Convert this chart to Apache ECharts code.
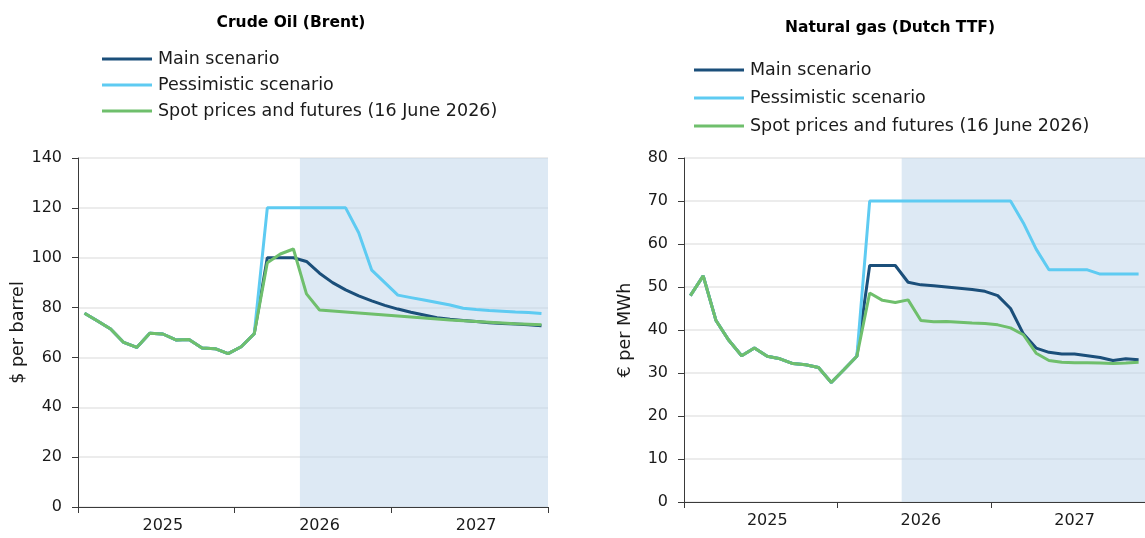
<!DOCTYPE html>
<html>
<head>
<meta charset="utf-8">
<script src="https://cdn.jsdelivr.net/npm/echarts@6/dist/echarts.min.js"></script>
<style>html,body{margin:0;padding:0;background:#fff}#c{width:1145px;height:538px}</style>
</head>
<body>
<div id="c"></div>
<script>
// ---- data ----
const years = ['2025', '2026', '2027'];
const seriesNames = ['Main scenario', 'Pessimistic scenario', 'Spot prices and futures (16 June 2026)'];
const oilYTicks = [0, 20, 40, 60, 80, 100, 120, 140];
const gasYTicks = [0, 10, 20, 30, 40, 50, 60, 70, 80];
const forecastStartIndex = 17; // June 2026: shaded forecast period

const oilMain = [77.7, 74.6, 71.4, 66.0, 64.0, 69.7, 69.4, 67.0, 67.2, 63.8, 63.5, 61.5,
  64.3, 69.5, 100, 100, 100, 98.5, 93.8, 90.0, 87.1, 84.7, 82.7, 80.9,
  79.4, 78.1, 77.0, 75.9, 75.3, 74.8, 74.4, 73.9, 73.6, 73.4, 73.1, 72.7];
const oilPess = [77.7, 74.6, 71.4, 66.0, 64.0, 69.7, 69.4, 67.0, 67.2, 63.8, 63.5, 61.5,
  64.3, 69.5, 120, 120, 120, 120, 120, 120, 120, 110, 95, 90,
  85, 84, 83, 82, 81, 79.7, 79.2, 78.8, 78.5, 78.2, 78.0, 77.6];
const oilSpot = [77.7, 74.6, 71.4, 66.0, 64.0, 69.7, 69.4, 67.0, 67.2, 63.8, 63.5, 61.5,
  64.3, 69.5, 98.0, 101.5, 103.5, 85.5, 79.0, 78.6, 78.2, 77.8, 77.4, 77.0,
  76.6, 76.2, 75.8, 75.4, 75.0, 74.7, 74.4, 74.1, 73.8, 73.5, 73.3, 73.1];

const gasMain = [48.0, 52.6, 42.2, 37.6, 34.0, 35.8, 33.9, 33.3, 32.2, 31.9, 31.3, 27.8,
  30.8, 33.9, 55, 55, 55, 51.1, 50.5, 50.3, 50.0, 49.7, 49.4, 49.0,
  48.0, 45.0, 39.1, 35.8, 34.8, 34.4, 34.4, 34.0, 33.6, 32.9, 33.3, 33.1];
const gasPess = [48.0, 52.6, 42.2, 37.6, 34.0, 35.8, 33.9, 33.3, 32.2, 31.9, 31.3, 27.8,
  30.8, 33.9, 70, 70, 70, 70, 70, 70, 70, 70, 70, 70,
  70, 70, 64.9, 58.8, 54, 54, 54, 54, 53, 53, 53, 53];
const gasSpot = [48.0, 52.6, 42.2, 37.6, 34.0, 35.8, 33.9, 33.3, 32.2, 31.9, 31.3, 27.8,
  30.8, 33.9, 48.6, 46.9, 46.4, 47.0, 42.2, 41.9, 42.0, 41.8, 41.6, 41.5,
  41.2, 40.5, 38.9, 34.6, 32.9, 32.5, 32.4, 32.4, 32.3, 32.2, 32.3, 32.5];

// ---- build ----
const months = [];
years.forEach(y => { for (let m = 1; m <= 12; m++) months.push(y + '-' + (m < 10 ? '0' + m : m)); });

const colors = ['#1b4f7a', '#5ecbf2', '#6fbf6c'];
const FONT = 'DejaVu Sans';
const axisColor = '#3a3a3a';
const textColor = '#1a1a1a';

function xCat(gridIndex) {
  return {
    type: 'category', gridIndex, data: months, boundaryGap: true,
    axisLine: { lineStyle: { color: axisColor, width: 1 } },
    axisTick: { show: true, length: 6, interval: (i) => i % 12 === 0, lineStyle: { color: axisColor } },
    axisLabel: { interval: (i) => i % 12 === 6, formatter: (v) => v.slice(0, 4), color: textColor, fontFamily: FONT, fontSize: 16, margin: 11 },
    splitLine: { show: false }
  };
}
function xHidden(gridIndex) {
  return { type: 'value', gridIndex, min: 0, max: months.length, show: false };
}
function yVal(gridIndex, ticks, name) {
  return {
    type: 'value', gridIndex, min: ticks[0], max: ticks[ticks.length - 1], interval: ticks[1] - ticks[0],
    name, nameLocation: 'middle', nameGap: 50, nameRotate: 90,
    nameTextStyle: { color: textColor, fontFamily: FONT, fontSize: 17.5 },
    axisLine: { show: true, lineStyle: { color: axisColor } },
    axisTick: { show: true, length: 6, lineStyle: { color: axisColor } },
    axisLabel: { color: textColor, fontFamily: FONT, fontSize: 16, margin: 16 },
    splitLine: { show: true, lineStyle: { color: '#ececec', width: 2 } }
  };
}
function lineSeries(name, data, idx, gridIdx) {
  return {
    name, type: 'line', data, xAxisIndex: gridIdx, yAxisIndex: gridIdx,
    symbol: 'none', smooth: false, z: 3 + idx,
    lineStyle: { color: colors[idx], width: 3 }, itemStyle: { color: colors[idx] },
    emphasis: { disabled: true }
  };
}
function shade(gridIdx) {
  return {
    type: 'line', xAxisIndex: gridIdx + 2, yAxisIndex: gridIdx, data: [], silent: true, z: 1,
    markArea: { silent: true, itemStyle: { color: 'rgba(187,211,233,0.5)' },
      data: [[{ xAxis: forecastStartIndex }, { xAxis: months.length }]] }
  };
}
function legend(left, top, gap) {
  return {
    left, top, padding: 0, orient: 'vertical', itemWidth: 50, itemHeight: 3, itemGap: gap, icon: 'rect',
    data: seriesNames, selectedMode: false,
    textStyle: { color: textColor, fontFamily: FONT, fontSize: 17.5, lineHeight: 20, padding: [0, 0, 0, 1] }
  };
}

const chart = echarts.init(document.getElementById('c'), null, { renderer: 'canvas' });
chart.setOption({
  animation: false,
  title: [
    { text: 'Crude Oil (Brent)', left: 291, top: 15, padding: 0, textAlign: 'center', textStyle: { fontFamily: FONT, fontWeight: 'bold', fontSize: 15.5, color: '#000' } },
    { text: 'Natural gas (Dutch TTF)', left: 890, top: 20, padding: 0, textAlign: 'center', textStyle: { fontFamily: FONT, fontWeight: 'bold', fontSize: 15.5, color: '#000' } }
  ],
  legend: [legend(102, 49, 6), legend(694, 60, 8)],
  grid: [
    { left: 78, top: 158, width: 470, height: 349 },
    { left: 684, top: 158, width: 468, height: 344 }
  ],
  xAxis: [xCat(0), xCat(1), xHidden(0), xHidden(1)],
  yAxis: [yVal(0, oilYTicks, '$ per barrel'), yVal(1, gasYTicks, '€ per MWh')],
  series: [
    shade(0), shade(1),
    lineSeries(seriesNames[0], oilMain, 0, 0),
    lineSeries(seriesNames[1], oilPess, 1, 0),
    lineSeries(seriesNames[2], oilSpot, 2, 0),
    lineSeries(seriesNames[0], gasMain, 0, 1),
    lineSeries(seriesNames[1], gasPess, 1, 1),
    lineSeries(seriesNames[2], gasSpot, 2, 1)
  ]
});
</script>
</body>
</html>
